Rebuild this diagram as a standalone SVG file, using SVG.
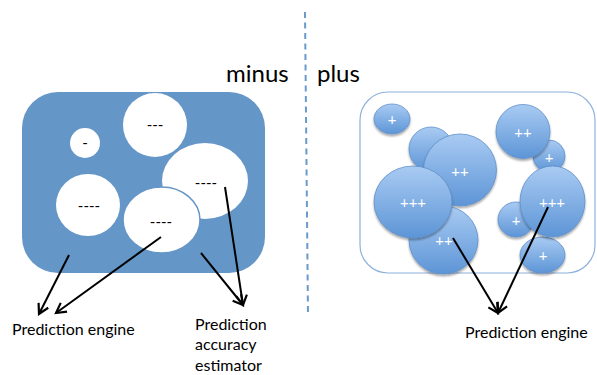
<svg xmlns="http://www.w3.org/2000/svg" width="597" height="375" viewBox="0 0 597 375">
  <defs>
    <style>
      .lbl { font-family: Lato, "Liberation Sans", sans-serif; fill: #000; }
      .title { font-size: 24px; }
      .cap { font-size: 16px; }
      .hole { fill: #ffffff; }
      .hole-t { font-family: Lato, "Liberation Sans", sans-serif; font-size: 15px; fill: #000; text-anchor: middle; }
      .bub { fill: url(#bubGrad); stroke: #5f8fc9; stroke-width: 0.8; filter: url(#shadow); }
      .bub-t { font-family: Lato, "Liberation Sans", sans-serif; font-size: 15px; fill: #ffffff; text-anchor: middle; }
      .conn { stroke: #000; stroke-width: 2; fill: none; marker-end: url(#head); }
    </style>
    <linearGradient id="bubGrad" x1="0" y1="0" x2="0" y2="1">
      <stop offset="0" stop-color="#a9cbf3"/>
      <stop offset="1" stop-color="#5d95d6"/>
    </linearGradient>
    <filter id="shadow" x="-20%" y="-20%" width="140%" height="150%">
      <feGaussianBlur in="SourceAlpha" stdDeviation="1.2"/>
      <feOffset dx="0" dy="1.5" result="b"/>
      <feComponentTransfer><feFuncA type="linear" slope="0.35"/></feComponentTransfer>
      <feMerge><feMergeNode/><feMergeNode in="SourceGraphic"/></feMerge>
    </filter>
    <marker id="head" viewBox="0 0 12 12" refX="10" refY="6" markerWidth="6.5" markerHeight="6.5" orient="auto" markerUnits="strokeWidth">
      <path d="M1,1 L10,6 L1,11" fill="none" stroke="#000" stroke-width="2"/>
    </marker>
  </defs>

  <!-- divider -->
  <line x1="305" y1="12" x2="308" y2="316" stroke="#6a9acb" stroke-width="2" stroke-dasharray="6 4.5"/>

  <text class="lbl title" x="226" y="82">minus</text>
  <text class="lbl title" x="317" y="82">plus</text>

  <!-- minus panel -->
  <g id="minus-box">
    <rect x="22" y="92" width="243" height="181" rx="36" ry="36" fill="#6496c8"/>
    <circle class="hole" cx="85" cy="143" r="15"/>
    <text class="hole-t" x="85" y="148">-</text>
    <circle class="hole" cx="155" cy="125" r="32"/>
    <text class="hole-t" x="155" y="130">---</text>
    <ellipse class="hole" cx="205" cy="181" rx="43" ry="38"/>
    <text class="hole-t" x="206" y="188">----</text>
    <ellipse class="hole" cx="88" cy="205" rx="32" ry="31"/>
    <text class="hole-t" x="89" y="211">----</text>
    <ellipse class="hole" cx="161.5" cy="220" rx="38.5" ry="33" stroke="#6496c8" stroke-width="1.5"/>
    <text class="hole-t" x="161" y="227">----</text>
  </g>

  <!-- plus panel -->
  <g id="plus-box">
    <rect x="360" y="92" width="235" height="181" rx="28" ry="28" fill="#ffffff" stroke="#8db2dc" stroke-width="1.2"/>
    <circle class="bub" cx="431" cy="149" r="22"/>
    <ellipse class="bub" cx="392" cy="119" rx="18" ry="15"/>
    <text class="bub-t" x="392" y="125">+</text>
    <ellipse class="bub" cx="460" cy="170" rx="36.5" ry="36"/>
    <text class="bub-t" x="460" y="177">++</text>
    <ellipse class="bub" cx="443.5" cy="240" rx="34.5" ry="34"/>
    <text class="bub-t" x="444" y="246">++</text>
    <ellipse class="bub" cx="413" cy="202" rx="39" ry="36"/>
    <text class="bub-t" x="413" y="208">+++</text>
    <circle class="bub" cx="549" cy="156" r="16"/>
    <text class="bub-t" x="549" y="163">+</text>
    <ellipse class="bub" cx="523" cy="131.5" rx="27" ry="27"/>
    <text class="bub-t" x="523" y="138">++</text>
    <ellipse class="bub" cx="516" cy="219.5" rx="18" ry="17.5"/>
    <text class="bub-t" x="516" y="226">+</text>
    <ellipse class="bub" cx="542.5" cy="255" rx="22.5" ry="18"/>
    <text class="bub-t" x="543" y="261">+</text>
    <ellipse class="bub" cx="552.5" cy="201.5" rx="32.5" ry="35.5"/>
    <text class="bub-t" x="552" y="208">+++</text>
  </g>

  <!-- connectors -->
  <g id="connectors">
    <line class="conn" x1="69" y1="255" x2="39" y2="314"/>
    <line class="conn" x1="161" y1="237" x2="56" y2="313"/>
    <line class="conn" x1="201" y1="253" x2="243" y2="305"/>
    <line class="conn" x1="225" y1="187" x2="243" y2="305"/>
    <line class="conn" x1="453" y1="238" x2="498" y2="313"/>
    <line class="conn" x1="548" y1="207" x2="498" y2="313"/>
  </g>

  <g id="label-engine-left">
    <text class="lbl cap" x="12" y="335">Prediction engine</text>
  </g>
  <g id="label-estimator">
    <text class="lbl cap" x="195" y="330">Prediction</text>
    <text class="lbl cap" x="195" y="350">accuracy</text>
    <text class="lbl cap" x="195" y="371">estimator</text>
  </g>
  <g id="label-engine-right">
    <text class="lbl cap" x="465" y="338">Prediction engine</text>
  </g>
</svg>
